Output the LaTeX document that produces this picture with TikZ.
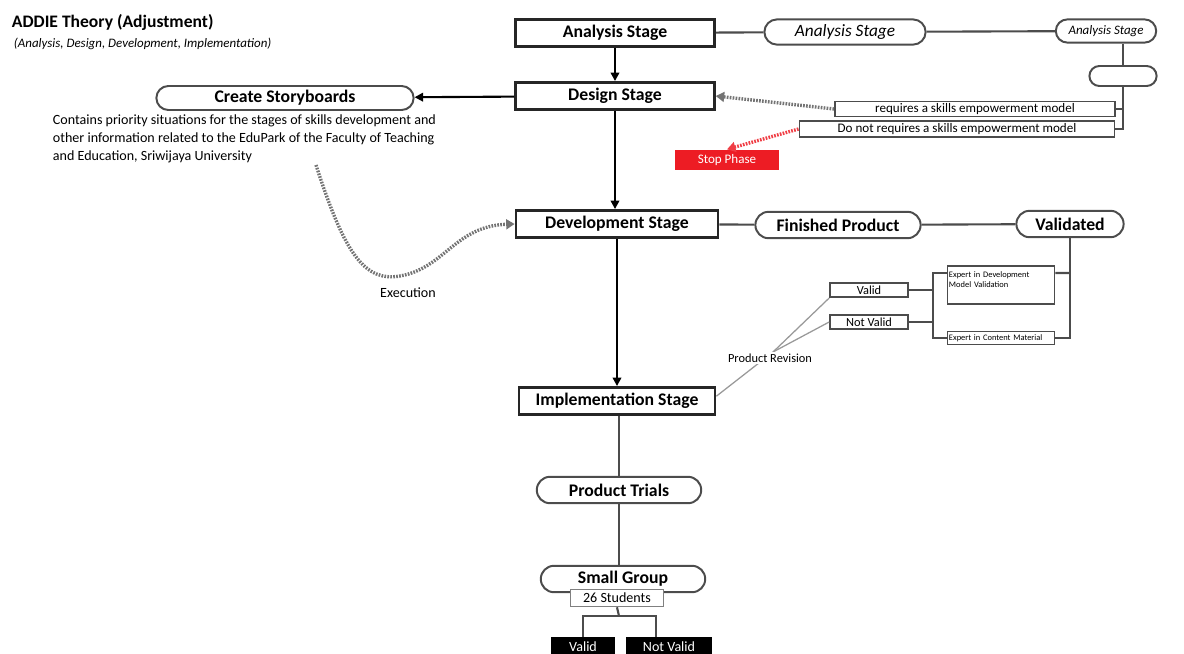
\documentclass[tikz,border=0pt]{standalone}
\usepackage{fontspec}
\setmainfont{Carlito}
\usepackage{tikz}
\usetikzlibrary{positioning, arrows.meta, shapes.misc}

\definecolor{stopred}{RGB}{237,28,36}

\begin{document}
\begin{tikzpicture}[
  x=0.025cm, y=-0.025cm,
  font=\fontsize{10.5}{12}\selectfont,
  stage/.style={draw=black!85, line width=1.9pt, minimum width=4.97cm,
    minimum height=0.68cm, inner sep=1pt,
    font=\bfseries\fontsize{12.6}{14}\selectfont},
  pill/.style={draw=black!70, line width=1.4pt, rounded rectangle,
    minimum height=0.63cm, inner sep=1pt, fill=white,
    font=\bfseries\fontsize{12.6}{14}\selectfont},
  tag/.style={draw=black!70, line width=1.2pt, minimum height=0.36cm,
    inner xsep=1pt, inner ysep=0pt, fill=white, font=\fontsize{8.8}{10}\selectfont},
  note/.style={align=left, font=\fontsize{10}{12.8}\selectfont},
  blackbox/.style={fill=black, text=white, minimum height=0.5cm,
    inner sep=1pt, font=\fontsize{10}{11}\selectfont},
  arrow/.style={-{Triangle[length=6pt,width=6pt]}, line width=1.5pt},
  link/.style={line width=1.5pt, draw=black!70},
  revline/.style={line width=0.9pt, draw=black!40},
  dotline/.style={line width=2.4pt, dash pattern=on 1.2pt off 0.9pt,
    draw=black!55},
]
  \useasboundingbox (0,0) rectangle (1184,653);

  % Title
  \node[anchor=west, font=\bfseries\fontsize{12.5}{14}\selectfont] (title) at (7,22) {ADDIE Theory (Adjustment)};
  \node[anchor=west, font=\itshape\fontsize{9.2}{10}\selectfont] (subtitle) at (9,44) {(Analysis, Design, Development, Implementation)};

  % Main stages
  \node[stage] (ana) at (615,33) {Analysis Stage};
  \node[stage] (des) at (615,96) {Design Stage};
  \node[stage, minimum width=5.05cm] (dev) at (617,224) {Development Stage};
  \node[stage, minimum width=4.9cm] (imp) at (617,401) {Implementation Stage};

  % Analysis branch
  \node[pill, minimum width=4.1cm, font=\itshape\fontsize{12.3}{14}\selectfont] (anapill) at (845,32) {Analysis Stage};
  \node[pill, minimum width=2.58cm, minimum height=0.58cm, font=\itshape\fontsize{9.2}{10}\selectfont] (anaright) at (1106,31) {Analysis Stage};
  \node[pill, minimum width=1.75cm, minimum height=0.5cm] (blank) at (1123,76) {};
  \node[tag, minimum width=7cm, minimum height=0.38cm, font=\fontsize{9.3}{10}\selectfont] (req) at (975,109) {requires a skills empowerment model};
  \node[tag, minimum width=7.88cm, minimum height=0.4cm, font=\fontsize{9.3}{10}\selectfont] (noreq) at (957,129) {Do not requires a skills empowerment model};
  \node[fill=stopred, text=white, minimum width=2.6cm, minimum height=0.52cm, inner sep=1pt, font=\fontsize{9.3}{10}\selectfont] (stop) at (727,160) {Stop Phase};

  % Design branch
  \node[pill, minimum width=6.5cm, minimum height=0.6cm] (story) at (285,98) {Create Storyboards};
  \node[note, anchor=north west] (desc) at (48,110) {Contains priority situations for the stages of skills development and\\
    other information related to the EduPark of the Faculty of Teaching\\
    and Education, Sriwijaya University};
  \node[font=\fontsize{10}{11}\selectfont] (exec) at (408,293) {Execution};
  \coordinate (curvestart) at (316,165);

  % Development branch
  \node[pill, minimum width=4.2cm, minimum height=0.66cm] (fin) at (838,225) {Finished Product};
  \node[pill, minimum width=2.75cm, minimum height=0.66cm] (val) at (1070,224) {Validated};
  \node[tag, minimum width=2.68cm, minimum height=0.96cm, text width=2.6cm, align=left,
    font=\fontsize{6}{7.5}\selectfont] (expdev) at (1001,285) {Expert in Development\\ Model Validation\\ \mbox{}};
  \node[tag, minimum width=2.68cm, minimum height=0.33cm, text width=2.6cm, align=left,
    font=\fontsize{6}{7}\selectfont] (expcon) at (1001,338) {Expert in Content Material};
  \node[tag, minimum width=1.95cm] (valid) at (869,290) {Valid};
  \node[tag, minimum width=1.95cm] (notvalid) at (869,322) {Not Valid};
  \coordinate (br) at (933,0);
  \coordinate (revc) at (773,352);

  % Implementation branch
  \node[pill, minimum width=4.18cm, minimum height=0.66cm] (trial) at (619,490) {Product Trials};
  \node[pill, minimum width=4.18cm, minimum height=0.66cm] (small) at (623,579) {Small Group};
  \node[tag, minimum width=2.33cm, minimum height=0.42cm, draw=black!50, font=\fontsize{10}{11}\selectfont] (stud) at (617,598) {26 Students};
  \node[blackbox, minimum width=1.58cm] (bval) at (583,647) {Valid};
  \node[blackbox, minimum width=2.13cm] (bnval) at (669,647) {Not Valid};
  \coordinate (split) at (619,616);

  % Connectors
  \draw[arrow] (ana) -- (des);
  \draw[arrow] (des) -- (des |- dev.north);
  \draw[arrow] (dev) -- (imp);
  \draw[arrow] (des) -- (story);
  \draw[link] (ana) -- (anapill);
  \draw[link] (anapill) -- (anaright);
  \draw[link] (blank |- anaright.south) -- (blank.north);
  \draw[link] (blank.south) |- (req.east);
  \draw[link] (blank.south) |- (noreq.east);
  \draw[dotline, -{Triangle[length=6pt,width=7pt]}] (req.west) -- (des.east);
  \draw[dotline, draw=stopred!85, -{Triangle[length=6pt,width=7pt]}] (noreq.west) -- (stop.north);
  \draw[dotline, -{Triangle[length=6pt,width=7pt]}] (curvestart) .. controls (345,255) and (365,282) .. (400,276)
    .. controls (445,268) and (455,226) .. (dev.west);

  \draw[link] (dev) -- (fin);
  \draw[link] (fin) -- (val);
  \draw[link] (val.south) |- (expcon.east);
  \draw[link] (val.south |- expdev.east) ++(0,-12) -- ([yshift=0.3cm]expdev.east);
  \draw[link] ([yshift=0.3cm]expdev.west) -| (br |- expcon.west) -- (expcon.west);
  \draw[link] (valid.east) -- (valid.east -| br);
  \draw[link] (notvalid.east) -- (notvalid.east -| br);
  \draw[revline] (revc) -- (valid.south west);
  \draw[revline] (revc) -- (notvalid.west);
  \draw[revline] (revc) -- ([yshift=0.12cm]imp.east);
  \node[fill=white, inner sep=1pt, font=\fontsize{8.8}{10}\selectfont] (rev) at (770,358) {Product Revision};

  \draw[link] (imp.south -| trial) -- (trial.north);
  \draw[link] (trial.south) -- (trial.south |- small.north);
  \draw[link] (stud.south) -- (split);
  \draw[link] (bval.north) |- (split) -| ([xshift=-0.33cm]bnval.north);
\end{tikzpicture}
\end{document}
